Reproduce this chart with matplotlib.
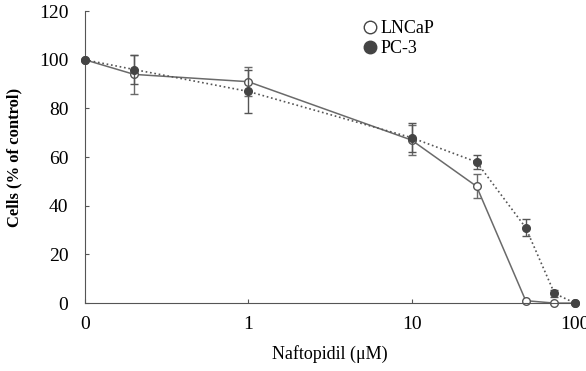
import matplotlib.pyplot as plt
from matplotlib.lines import Line2D

plt.rcParams['font.family'] = ['Liberation Serif', 'DejaVu Serif']

# concentration (uM); 0.1 stands for the "0" control
conc = [0.1, 0.2, 1, 10, 25, 50, 75, 100]
lncap = [100, 94, 91, 67, 48, 1, 0, 0]
lncap_err = [0, 8, 6, 6, 5, 0, 0, 0]
pc3 = [100, 96, 87, 68, 58, 31, 4, 0]
pc3_err = [0, 6, 9, 6, 3, 3.5, 1.5, 0]

xticks = [0.1, 1, 10, 100]
xticklabels = ['0', '1', '10', '100']

fig = plt.figure(figsize=(5.86, 3.71), dpi=100)
ax = fig.add_axes([0.145, 0.183, 0.836, 0.787])

ax.errorbar(conc, lncap, yerr=lncap_err, fmt='o', ls='-', color='#6a6a6a',
            mfc='white', mec='#555555', ms=5.5, lw=1.1, capsize=3, elinewidth=1,
            zorder=2)
ax.errorbar(conc, pc3, yerr=pc3_err, fmt='o', ls=':', color='#555555',
            mfc='#444444', mec='#444444', ms=5.5, lw=1.2, capsize=3, elinewidth=1,
            zorder=3)

ax.set_xscale('log')
ax.set_xlim(0.1, 100)
ax.set_ylim(0, 120)
ax.set_xticks(xticks)
ax.set_xticklabels(xticklabels)
ax.minorticks_off()
ax.set_yticks(range(0, 121, 20))
ax.tick_params(direction='in', labelsize=14, length=3, color='#555555')
ax.tick_params(axis='x', pad=9)
ax.tick_params(axis='y', pad=12)
for s in ['top', 'right']:
    ax.spines[s].set_visible(False)
for s in ['left', 'bottom']:
    ax.spines[s].set_color('#555555')
for c in ax.get_children():
    try:
        c.set_clip_on(False)
    except Exception:
        pass

ax.set_ylabel('Cells (% of control)', fontsize=12, fontweight='bold', labelpad=12)
ax.set_xlabel('Naftopidil (μM)', fontsize=13, labelpad=9)

handles = [Line2D([], [], ls='none', marker='o', ms=9, mfc='white', mec='#444444'),
           Line2D([], [], ls='none', marker='o', ms=9, mfc='#444444', mec='#444444')]
ax.legend(handles, ['LNCaP', 'PC-3'], loc='upper left', bbox_to_anchor=(0.545, 1.0),
          frameon=False, fontsize=13, handletextpad=0.1, handlelength=1,
          borderpad=0, labelspacing=0.15)

fig.savefig('out.png', dpi=100)
